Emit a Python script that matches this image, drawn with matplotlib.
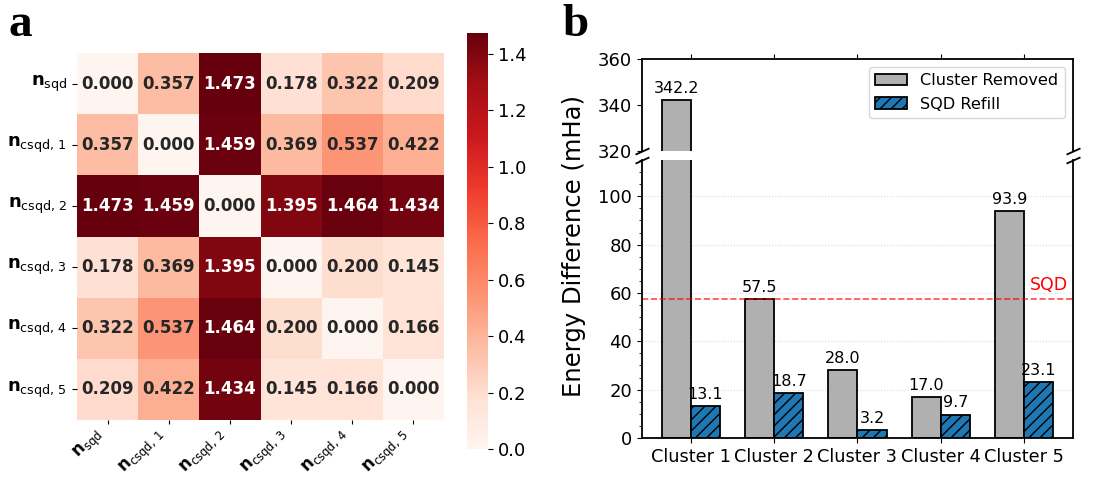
import numpy as np
import matplotlib
matplotlib.use("Agg")
import matplotlib.pyplot as plt
from matplotlib.ticker import AutoMinorLocator, MultipleLocator
import seaborn as sns

# heatmap data (panel a)
labels = [r'$\mathbf{n}_{\mathrm{sqd}}$',
          r'$\mathbf{n}_{\mathrm{csqd},\,1}$',
          r'$\mathbf{n}_{\mathrm{csqd},\,2}$',
          r'$\mathbf{n}_{\mathrm{csqd},\,3}$',
          r'$\mathbf{n}_{\mathrm{csqd},\,4}$',
          r'$\mathbf{n}_{\mathrm{csqd},\,5}$']
row_sqd = [0.000, 0.357, 1.473, 0.178, 0.322, 0.209]
row_c1 = [0.357, 0.000, 1.459, 0.369, 0.537, 0.422]
row_c2 = [1.473, 1.459, 0.000, 1.395, 1.464, 1.434]
row_c3 = [0.178, 0.369, 1.395, 0.000, 0.200, 0.145]
row_c4 = [0.322, 0.537, 1.464, 0.200, 0.000, 0.166]
row_c5 = [0.209, 0.422, 1.434, 0.145, 0.166, 0.000]

# bar data (panel b)
clusters = ['Cluster 1', 'Cluster 2', 'Cluster 3', 'Cluster 4', 'Cluster 5']
removed = [342.2, 57.5, 28.0, 17.0, 93.9]
refill = [13.1, 18.7, 3.2, 9.7, 23.1]
sqd_ref = 57.5

dist = np.array([row_sqd, row_c1, row_c2, row_c3, row_c4, row_c5])

fig = plt.figure(figsize=(11.19, 4.82), dpi=100)

# ---- panel a: heatmap
ax_h = fig.add_axes([0.0688, 0.1286, 0.328, 0.7614])
ax_cb = fig.add_axes([0.4173, 0.0685, 0.0188, 0.863])
sns.heatmap(dist, ax=ax_h, cbar_ax=ax_cb, cmap='Reds', vmin=0, vmax=dist.max(),
            annot=True, fmt='.3f', annot_kws={'fontsize': 12, 'fontweight': 'bold'},
            xticklabels=labels, yticklabels=labels)
ax_h.set_xticklabels(labels, rotation=45, ha='right', fontsize=12)
ax_h.set_yticklabels(labels, rotation=0, fontsize=13)
ax_h.tick_params(axis='x', pad=1, length=3)
ax_cb.tick_params(labelsize=13)
ax_cb.yaxis.set_major_locator(MultipleLocator(0.2))

# ---- panel b: broken-axis bar chart
ax_top = fig.add_axes([0.5737, 0.6867, 0.385, 0.1909])
ax_bot = fig.add_axes([0.5737, 0.0913, 0.385, 0.5768])

x = np.arange(len(clusters))
w = 0.35
for ax in (ax_top, ax_bot):
    ax.bar(x - w / 2, removed, w, color='#b0b0b0', edgecolor='black',
           linewidth=1.3, label='Cluster Removed')
    ax.bar(x + w / 2, refill, w, color='#1f77b4', edgecolor='black',
           linewidth=1.3, hatch='///', label='SQD Refill')

ax_top.set_ylim(320, 360)
ax_bot.set_ylim(0, 115)
ax_top.spines['bottom'].set_visible(False)
ax_bot.spines['top'].set_visible(False)
ax_top.xaxis.tick_top()
ax_top.tick_params(labeltop=False)
ax_top.yaxis.set_major_locator(MultipleLocator(20))
ax_bot.yaxis.set_major_locator(MultipleLocator(20))
ax_bot.yaxis.set_minor_locator(AutoMinorLocator())
ax_top.tick_params(axis='y', labelsize=13)
ax_bot.tick_params(axis='y', labelsize=13)
ax_bot.set_xticks(x)
ax_bot.set_xticklabels(clusters, fontsize=12.8)
ax_top.set_xticks(x)
for ax in (ax_top, ax_bot):
    for s in ax.spines.values():
        s.set_linewidth(1.3)
ax_bot.grid(axis='y', linestyle=':', color='lightgray', alpha=0.8)
ax_bot.set_axisbelow(True)

# value labels
for i in range(len(clusters)):
    target = ax_top if removed[i] > 115 else ax_bot
    target.annotate(f'{removed[i]:.1f}', (x[i] - w / 2, removed[i]), xytext=(0, 3),
                    textcoords='offset points', ha='center', va='bottom', fontsize=11.5)
    ax_bot.annotate(f'{refill[i]:.1f}', (x[i] + w / 2, refill[i]), xytext=(0, 3),
                    textcoords='offset points', ha='center', va='bottom', fontsize=11.5)

ax_bot.axhline(sqd_ref, color='red', linestyle='--', alpha=0.7, linewidth=1.2)
ax_bot.text(0.99, sqd_ref + 2, 'SQD', color='red', fontsize=12.5, ha='right', va='bottom',
            transform=ax_bot.get_yaxis_transform())

ax_top.legend(loc='upper right', fontsize=11.6)

# break marks
kw = dict(marker=[(-1, -0.45), (1, 0.45)], markersize=10, linestyle='none',
          color='k', mec='k', mew=1.3, clip_on=False)
ax_top.plot([0, 1], [0, 0], transform=ax_top.transAxes, **kw)
ax_bot.plot([0, 1], [1, 1], transform=ax_bot.transAxes, **kw)

ax_bot.set_ylabel('Energy Difference (mHa)', fontsize=17.5)
ax_bot.yaxis.set_label_coords(-0.13, 0.69)

fig.text(0.008, 0.925, 'a', fontsize=34, fontweight='bold', family='Liberation Serif')
fig.text(0.503, 0.925, 'b', fontsize=34, fontweight='bold', family='Liberation Serif')

fig.savefig('out.png', dpi=100)
